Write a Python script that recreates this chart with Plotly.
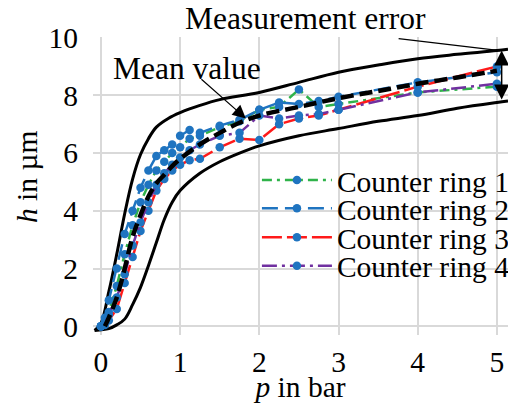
import plotly.graph_objects as go

# ---------------- data ----------------
p_ring = [0, 0.05, 0.1, 0.2, 0.3, 0.4, 0.5, 0.6, 0.7, 0.8, 0.9, 1.0, 1.12, 1.25,
          1.5, 1.75, 2.0, 2.25, 2.5, 2.75, 3.0, 4.0, 5.0]
h_ring1 = [0, 0.15, 0.5, 1.4, 2.5, 3.5, 4.3, 4.9, 5.4, 5.7, 6.0, 6.2, 6.5, 6.6,
           6.9, 7.1, 7.5, 7.6, 8.2, 7.6, 7.7, 8.1, 8.3]
h_ring2 = [0, 0.3, 0.9, 2.0, 3.2, 4.0, 4.8, 5.4, 5.9, 6.1, 6.3, 6.6, 6.8, 6.7,
           6.95, 7.15, 7.5, 7.75, 7.7, 7.8, 7.95, 8.45, 8.8]
h_ring3 = [0, 0.05, 0.2, 0.6, 1.5, 2.4, 3.3, 4.0, 4.7, 5.1, 5.4, 5.6, 5.75, 5.8,
           6.2, 6.5, 6.45, 7.0, 7.2, 7.3, 7.5, 8.3, 9.0]
h_ring4 = [0, 0.1, 0.4, 1.0, 1.8, 2.8, 3.6, 4.3, 4.9, 5.3, 5.6, 5.85, 6.1, 6.3,
           6.6, 6.7, 7.3, 7.2, 7.3, 7.35, 7.5, 8.1, 8.4]
ring_names = ["Counter ring 1", "Counter ring 2", "Counter ring 3", "Counter ring 4"]

p_mean = [0.05, 0.1, 0.2, 0.3, 0.4, 0.5, 0.6, 0.7, 0.8, 0.9, 1.0, 1.25, 1.5, 1.75,
          2.0, 2.5, 3.0, 3.5, 4.0, 4.5, 5.0]
h_mean = [0, 0.3, 1.0, 2.0, 3.1, 3.85, 4.5, 4.95, 5.25, 5.55, 5.8, 6.3, 6.7, 7.05,
          7.3, 7.6, 7.9, 8.15, 8.4, 8.62, 8.85]

p_upper = [-0.08, 0.0, 0.1, 0.2, 0.3, 0.4, 0.5, 0.6, 0.7, 0.85, 1.0, 1.25, 1.5,
           2.0, 2.5, 3.0, 3.5, 4.0, 4.5, 5.0, 5.14]
h_upper = [-0.14, 0.1, 1.2, 2.5, 3.9, 5.1, 5.95, 6.5, 6.9, 7.2, 7.4, 7.65, 7.85,
           8.1, 8.45, 8.8, 9.05, 9.27, 9.42, 9.55, 9.6]

p_lower = [-0.08, 0.1, 0.2, 0.3, 0.4, 0.5, 0.6, 0.7, 0.8, 0.9, 1.0, 1.25, 1.5,
           1.75, 2.0, 2.5, 3.0, 3.5, 4.0, 4.5, 5.0, 5.14]
h_lower = [-0.14, -0.08, 0.05, 0.25, 0.75, 1.35, 2.1, 2.9, 3.7, 4.3, 4.7, 5.3,
           5.7, 6.0, 6.25, 6.6, 6.85, 7.1, 7.3, 7.55, 7.75, 7.8]

x_ticks = [0, 1, 2, 3, 4, 5]
y_ticks = [0, 2, 4, 6, 8, 10]

# ---------------- styles ----------------
FONT = "Liberation Serif, Times New Roman, serif"
FS = 29.5
MARKER_COLOR = "#1f74c0"
ring_colors = ["#2fb34a", "#1f74c0", "#ff1a1a", "#7030a0"]
ring_dash = ["10px,5px,3px,5px", "16px,7px", "20px,5px", "15px,5px,3px,5px"]
legend_ids = ["legend", "legend2", "legend3", "legend4"]
legend_y = [0.519, 0.424, 0.327, 0.231]

fig = go.Figure()

fig.add_trace(go.Scatter(x=p_upper, y=h_upper, mode="lines", line=dict(color="black", width=3, shape="spline"),
                         showlegend=False, hoverinfo="skip"))
fig.add_trace(go.Scatter(x=p_lower, y=h_lower, mode="lines", line=dict(color="black", width=3, shape="spline"),
                         showlegend=False, hoverinfo="skip"))

for i, h in enumerate([h_ring1, h_ring2, h_ring3, h_ring4]):
    fig.add_trace(go.Scatter(
        x=p_ring, y=h, mode="lines+markers", name=ring_names[i],
        line=dict(color=ring_colors[i], width=2.5, dash=ring_dash[i]),
        marker=dict(color=MARKER_COLOR, size=8.5),
        legend=legend_ids[i],
    ))

fig.add_trace(go.Scatter(x=p_mean, y=h_mean, mode="lines",
                         line=dict(color="black", width=4.5, dash="13px,6px", shape="spline"),
                         showlegend=False, hoverinfo="skip"))

legend_common = dict(font=dict(family=FONT, size=FS, color="black"), itemwidth=70,
                     bgcolor="rgba(0,0,0,0)", xanchor="left", yanchor="middle", x=0.395)
layout_legends = {}
for i, lid in enumerate(legend_ids):
    layout_legends[lid] = dict(legend_common, y=legend_y[i])

fig.update_layout(
    width=508, height=403,
    margin=dict(l=93, r=0, t=37, b=68, autoexpand=False),
    paper_bgcolor="white", plot_bgcolor="white",
    font=dict(family=FONT, size=FS, color="black"),
    showlegend=True,
    **layout_legends,
)

fig.update_xaxes(range=[-0.1, 5.14], tickvals=x_ticks, showgrid=True, gridcolor="#d9d9d9", gridwidth=1.6,
                 zeroline=True, zerolinecolor="#d9d9d9", zerolinewidth=1.6, showline=False, ticks="",
                 tickfont=dict(family=FONT, size=FS), ticklabelstandoff=6,
                 title=dict(text="<i>p</i> in bar", font=dict(family=FONT, size=FS), standoff=0))
fig.update_yaxes(range=[-0.3, 10.02], tickvals=y_ticks, showgrid=True, gridcolor="#d9d9d9", gridwidth=1.6,
                 zeroline=True, zerolinecolor="#d9d9d9", zerolinewidth=1.6, showline=False, ticks="",
                 tickfont=dict(family=FONT, size=FS), ticklabelstandoff=14)

# y-axis title (placed as annotation to match its off-centre position)
fig.add_annotation(text="<i>h</i> in µm", xref="paper", yref="paper", x=(27 - 93) / 415, y=(335 - 177) / 298,
                   xanchor="center", yanchor="middle", textangle=-90, showarrow=False,
                   font=dict(family=FONT, size=FS, color="black"))

AFS = 31.5
fig.add_annotation(text="Mean value", xref="paper", yref="paper", x=(187 - 93) / 415, y=(335 - 69) / 298,
                   xanchor="center", yanchor="middle", showarrow=False,
                   font=dict(family=FONT, size=AFS, color="black"))
fig.add_annotation(text="", x=1.83, y=7.2, ax=1.25, ay=8.6, xref="x", yref="y", axref="x", ayref="y",
                   showarrow=True, arrowhead=2, arrowsize=2.2, arrowwidth=1.2, arrowcolor="black")
fig.add_annotation(text="Measurement error", xref="paper", yref="paper", x=(305 - 93) / 415, y=(335 - 19) / 298,
                   xanchor="center", yanchor="middle", showarrow=False,
                   font=dict(family=FONT, size=AFS, color="black"))
fig.add_annotation(text="", x=5.04, y=9.55, ax=3.74, ay=9.97, xref="x", yref="y", axref="x", ayref="y",
                   showarrow=True, arrowhead=0, arrowwidth=1.2, arrowcolor="black")
fig.add_annotation(text="", x=5.06, y=9.55, ax=5.06, ay=7.8, xref="x", yref="y", axref="x", ayref="y",
                   showarrow=True, arrowhead=2, arrowside="end+start", arrowsize=2.0, arrowwidth=1.5,
                   arrowcolor="black")

fig.write_html("out.html")
